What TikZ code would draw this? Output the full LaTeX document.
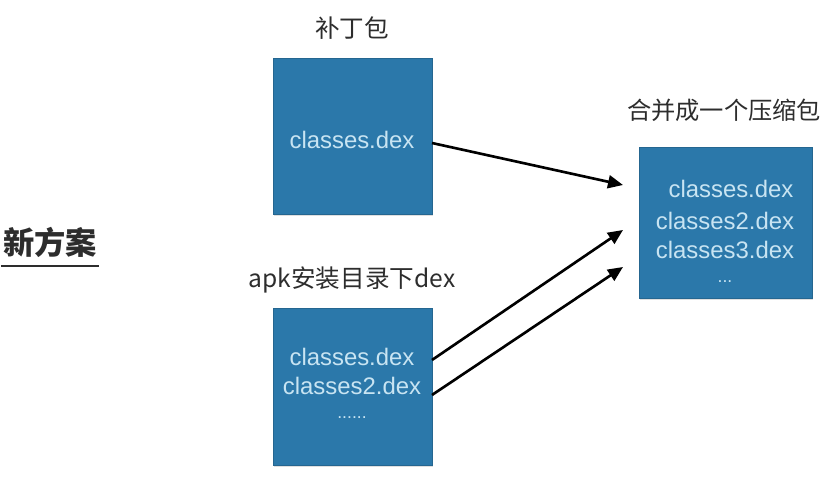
\documentclass[tikz,border=0pt]{standalone}
\usepackage{fontspec}
\setmainfont{Liberation Sans}
\newfontfamily\cjk{Noto Sans CJK SC}
\usetikzlibrary{arrows.meta,shadows}
\definecolor{dexblue}{RGB}{43,120,170}
\definecolor{dextext}{RGB}{200,228,242}
\definecolor{titlegray}{RGB}{45,45,45}
\begin{document}
\begin{tikzpicture}[x=0.02cm,y=-0.02cm,
  dexbox/.style={draw=dexblue!85!black,line width=0.4pt,fill=dexblue,
    drop shadow={shadow xshift=0.8pt,shadow yshift=-1pt,opacity=0.25}},
  dexname/.style={text=dextext,font=\fontsize{13.6}{16}\selectfont,inner sep=0pt},
  boxtitle/.style={text=titlegray,font=\cjk\fontsize{14}{17}\selectfont,inner sep=0pt},
  merge/.style={draw,line width=1.5pt,-{Triangle[length=3mm,width=2.6mm]}}]
\useasboundingbox (0,0) rectangle (823,477);

\node[boxtitle,font=\cjk\bfseries\fontsize{17.8}{20}\selectfont,inner sep=1pt] (scheme) at (50,242) {新方案};
\path[draw,line width=1.2pt,titlegray] ([yshift=-4pt]scheme.south west) -- ([yshift=-4pt]scheme.south east);

\path[dexbox] (273,58) rectangle (432,214);
\path[dexbox] (273,308) rectangle (432,465);
\path[dexbox] (639,147) rectangle (812,298);

\node[boxtitle] (patch) at (352,28) {补丁包};
\node[boxtitle] (apkdir) at (352,280) {apk安装目录下dex};
\node[boxtitle,font=\cjk\fontsize{13.8}{17}\selectfont] (merged) at (724,110) {合并成一个压缩包};

\node[dexname] (p1) at (352,140) {classes.dex};

\node[dexname] (a1) at (352,357) {classes.dex};
\node[dexname] (a2) at (352,386) {classes2.dex};
\node[dexname,font=\fontsize{10}{12}\selectfont] (a3) at (352,418) {......};

\node[dexname] (m1) at (731,189) {classes.dex};
\node[dexname] (m2) at (725,221) {classes2.dex};
\node[dexname] (m3) at (725,250) {classes3.dex};
\node[dexname,font=\fontsize{10}{12}\selectfont] (m4) at (725,282) {...};

\coordinate (in1) at (623,185);
\coordinate (in2) at (623,230);
\coordinate (in3) at (623,267);

\path[merge] (432,143) -- (in1);
\path[merge] (432,360) -- (in2);
\path[merge] (432,395) -- (in3);
\end{tikzpicture}
\end{document}
